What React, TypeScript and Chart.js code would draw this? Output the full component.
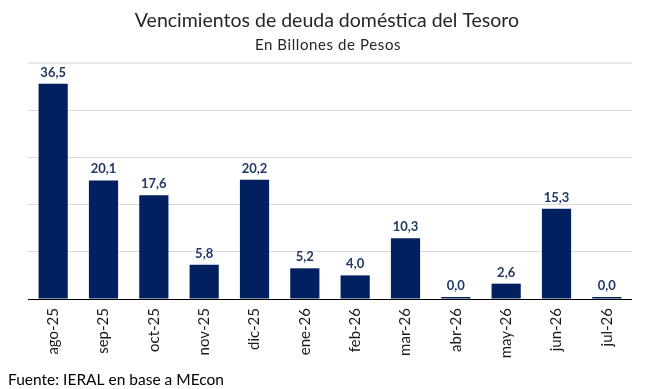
import React, { useEffect, useRef } from "react";
import { Chart, registerables } from "chart.js";

Chart.register(...registerables);

const TITLE = "Vencimientos de deuda doméstica del Tesoro";
const SUBTITLE = "En Billones de Pesos";
const SOURCE = "Fuente: IERAL en base a MEcon";

const categories = [
  "ago-25", "sep-25", "oct-25", "nov-25", "dic-25", "ene-26",
  "feb-26", "mar-26", "abr-26", "may-26", "jun-26", "jul-26",
];
const values = [36.5, 20.1, 17.6, 5.8, 20.2, 5.2, 4.0, 10.3, 0.0, 2.6, 15.3, 0.0];

const Y_MIN = 0;
const Y_MAX = 40;
const Y_STEP = 8;

const FONT = "Lato, 'Open Sans', sans-serif";

const textPlugin = {
  id: "textPlugin",
  afterDraw(chart: any) {
    const ctx = chart.ctx;
    ctx.save();
    ctx.fillStyle = "#262626";
    ctx.textAlign = "center";
    ctx.textBaseline = "alphabetic";
    ctx.font = `19.5px ${FONT}`;
    ctx.fillText(TITLE, 327, 27);
    ctx.font = `15px ${FONT}`;
    try { (ctx as any).letterSpacing = "0.6px"; } catch (e) {}
    ctx.fillText(SUBTITLE, 328, 50);
    try { (ctx as any).letterSpacing = "0px"; } catch (e) {}
    ctx.textAlign = "left";
    ctx.fillStyle = "#000000";
    ctx.font = `15.5px ${FONT}`;
    ctx.fillText(SOURCE, 8, 385);
    ctx.restore();
  },
  afterDatasetsDraw(chart: any) {
    const ctx = chart.ctx;
    const meta = chart.getDatasetMeta(0);
    ctx.save();
    ctx.fillStyle = "#1F3864";
    ctx.font = `bold 13px ${FONT}`;
    ctx.textAlign = "center";
    ctx.textBaseline = "alphabetic";
    meta.data.forEach((bar: any, i: number) => {
      const v = chart.data.datasets[0].data[i] as number;
      const txt = v.toFixed(1).replace(".", ",");
      ctx.fillText(txt, bar.x, bar.y - 7);
    });
    ctx.restore();
  },
};

export default function App() {
  const ref = useRef<HTMLCanvasElement | null>(null);

  useEffect(() => {
    if (!ref.current) return;
    const chart = new Chart(ref.current, {
      type: "bar",
      data: {
        labels: categories,
        datasets: [
          {
            data: values,
            backgroundColor: "#002060",
            borderWidth: 0,
            barPercentage: 0.58,
            categoryPercentage: 1,
            minBarLength: 2,
          },
        ],
      },
      options: {
        animation: false,
        responsive: true,
        maintainAspectRatio: false,
        layout: { padding: { top: 63, left: 28, right: 19, bottom: 0 } },
        plugins: {
          legend: { display: false },
          tooltip: { enabled: false },
          title: { display: false },
        },
        scales: {
          x: {
            grid: { display: false, drawTicks: false },
            border: { display: false },
            ticks: {
              minRotation: 90,
              maxRotation: 90,
              padding: 9,
              color: "#1a1a1a",
              font: { family: FONT, size: 15 },
              autoSkip: false,
            },
            afterFit: (scale: any) => {
              scale.height = 90;
            },
          },
          y: {
            min: Y_MIN,
            max: Y_MAX,
            ticks: { display: false, stepSize: Y_STEP },
            border: { display: false },
            grid: {
              drawTicks: false,
              color: (c: any) => (c.tick && c.tick.value === 0 ? "#000000" : c.tick && c.tick.value === Y_MAX ? "#E6E6E6" : "#D9D9D9"),
              lineWidth: (c: any) => (c.tick && c.tick.value === Y_MAX ? 2 : 1),
            },
            afterFit: (scale: any) => {
              scale.width = 0;
            },
          },
        },
      },
      plugins: [textPlugin],
    });
    return () => chart.destroy();
  }, []);

  return (
    <div style={{ position: "absolute", left: 0, top: 0, width: 651, height: 389, background: "#ffffff" }}>
      <canvas ref={ref} />
    </div>
  );
}
